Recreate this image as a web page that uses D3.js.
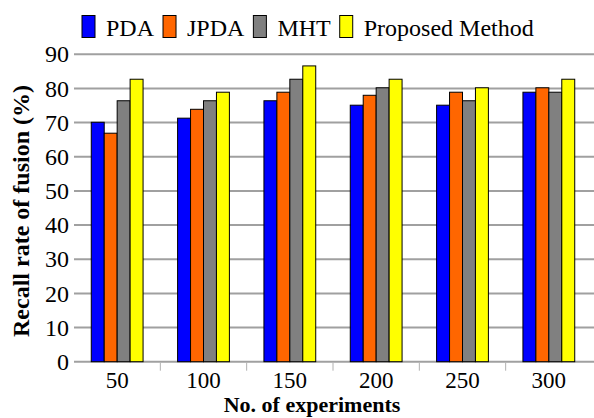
<!DOCTYPE html>
<html>
<head>
<meta charset="utf-8">
<script src="https://cdn.jsdelivr.net/npm/d3@7"></script>
<style>
  body { margin: 0; background: #fff; }
  text { font-family: 'Liberation Serif', 'Times New Roman', Times, 'DejaVu Serif', serif; }
</style>
</head>
<body>
<div id="visual"></div>
<script>
// recall rate chart

const experiments = ["50", "100", "150", "200", "250", "300"];
const methods = ["PDA", "JPDA", "MHT", "Proposed Method"];
const colors = ["#0000ff", "#ff6600", "#808080", "#ffff00"];

const pda      = [70.1, 71.3, 76.4, 75.1, 75.1, 78.9];
const jpda     = [66.9, 73.9, 78.9, 78.0, 78.9, 80.2];
const mht      = [76.4, 76.4, 82.7, 80.2, 76.4, 78.9];
const proposed = [82.7, 78.9, 86.6, 82.7, 80.2, 82.7];

const yTicks = [0, 10, 20, 30, 40, 50, 60, 70, 80, 90];

const series = [pda, jpda, mht, proposed];

const w = 594, h = 418;
const font = "'Liberation Serif', 'Times New Roman', Times, serif";

const svg = d3.select("#visual")
  .append("svg")
  .attr("width", w)
  .attr("height", h)
  .attr("font-family", font)
  .style("display", "block");

const x = d3.scaleBand()
  .domain(experiments)
  .range([74, 592])
  .paddingInner(0.4)
  .paddingOuter(0.2);

const xi = d3.scaleBand()
  .domain(methods)
  .range([0, x.bandwidth()]);

const y = d3.scaleLinear().domain([0, 90]).range([361.7, 54.3]);

// gridlines
svg.append("g")
  .selectAll("line")
  .data(yTicks)
  .enter().append("line")
    .attr("x1", 74)
    .attr("x2", w)
    .attr("y1", d => y(d))
    .attr("y2", d => y(d))
    .attr("stroke", "#a0a0a0")
    .attr("stroke-width", 2);

// y labels
svg.append("g")
  .selectAll("text")
  .data(yTicks)
  .enter().append("text")
    .attr("x", 69)
    .attr("y", d => y(d))
    .attr("dy", "0.34em")
    .attr("text-anchor", "end")
    .attr("font-family", font)
    .attr("font-size", "24px")
    .text(d => d);

// category separators
const step = x.step();
svg.append("g")
  .selectAll("line")
  .data(experiments.slice(1))
  .enter().append("line")
    .attr("x1", d => x(d) - step * x.paddingInner() / 2)
    .attr("x2", d => x(d) - step * x.paddingInner() / 2)
    .attr("y1", y(0) + 1)
    .attr("y2", y(0) + 9)
    .attr("stroke", "#b0b0b0")
    .attr("stroke-width", 1);

// bars
series.forEach((vals, k) => {
  svg.append("g")
    .selectAll("rect")
    .data(vals)
    .enter().append("rect")
      .attr("x", (d, i) => x(experiments[i]) + xi(methods[k]))
      .attr("y", d => y(d))
      .attr("width", xi.bandwidth())
      .attr("height", d => y(0) - y(d))
      .attr("fill", colors[k])
      .attr("stroke", "#000")
      .attr("stroke-width", 1);
});

// x labels
svg.append("g")
  .selectAll("text")
  .data(experiments)
  .enter().append("text")
    .attr("x", d => x(d) + x.bandwidth() / 2)
    .attr("y", 388)
    .attr("text-anchor", "middle")
    .attr("font-family", font)
    .attr("font-size", "23px")
    .text(d => d);

/* axis titles */
svg.append("text")
   .attr("x", 312)
   .attr("y", 412)
   .attr("text-anchor", "middle")
   .attr("font-family", font)
   .attr("font-size", "22px")
   .attr("font-weight", "bold")
   .text("No. of experiments");

svg.append("text")
   .attr("transform", "translate(29,211) rotate(-90)")
   .attr("text-anchor", "middle")
   .attr("font-family", font)
   .attr("font-size", "24px")
   .attr("font-weight", "bold")
   .text("Recall rate of fusion (%)");

// legend
const legend = svg.append("g");
let lx = 82;
methods.forEach((m, k) => {
  legend.append("rect")
    .attr("x", lx)
    .attr("y", 15.5)
    .attr("width", 13)
    .attr("height", 22)
    .attr("fill", colors[k])
    .attr("stroke", "#000")
    .attr("stroke-width", 1);
  const t = legend.append("text")
    .attr("x", lx + 24)
    .attr("y", 36)
    .attr("font-family", font)
    .attr("font-size", "24px")
    .text(m);
  lx += 24 + t.node().getComputedTextLength() + 9;
});
</script>
</body>
</html>
